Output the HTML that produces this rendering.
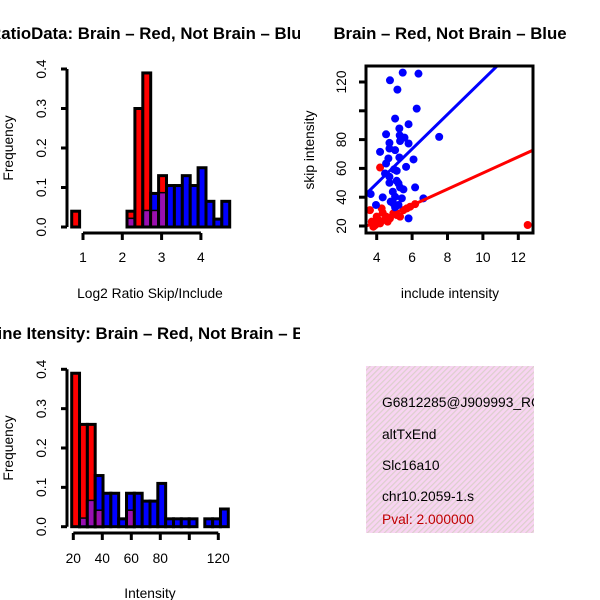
<!DOCTYPE html>
<html><head><meta charset="utf-8"><style>
html,body{margin:0;padding:0;background:#fff}
svg{display:block;font-family:"Liberation Sans",Arial,sans-serif}
</style></head><body>
<svg id="c" width="600" height="600" xmlns="http://www.w3.org/2000/svg">
<defs>
<clipPath id="clipL"><rect x="0" y="0" width="300" height="600"/></clipPath>
<clipPath id="clipS"><rect x="366" y="66" width="167" height="167"/></clipPath>
<clipPath id="clipB"><rect x="366" y="366" width="168" height="167"/></clipPath>
<pattern id="hatch" width="4" height="4" patternUnits="userSpaceOnUse" patternTransform="rotate(45)">
<rect width="4" height="4" fill="#f8d4f2"/><rect width="1.2" height="4" fill="#dccfcc"/></pattern>
</defs>
<g id="p1" clip-path="url(#clipL)"></g>
<g id="p2"></g>
<g id="p3" clip-path="url(#clipL)"></g>
<g id="p4">
<rect x="366" y="366" width="168" height="167" fill="url(#hatch)"/>
<g clip-path="url(#clipB)" font-size="13.8">
<text x="382" y="407">G6812285@J909993_RC</text>
<text x="382" y="439">altTxEnd</text>
<text x="382" y="470">Slc16a10</text>
<text x="382" y="501">chr10.2059-1.s</text>
<text x="382" y="524" fill="#c00000">Pval: 2.000000</text>
</g></g>
</svg>
<script>
// Panel 1 data (bin index -> frequency)
const ratioRed  = [0.04,0,0,0,0,0,0,0.04,0.30,0.39,0.04,0.13,0,0,0,0,0,0,0,0];
const ratioBlue = [0,0,0,0,0,0,0,0.02,0,0.04,0.085,0.085,0.105,0.105,0.13,0.105,0.15,0.065,0.02,0.065];
const ratioXTicks = [1,2,3,4];
const freqTicks = ["0.0","0.1","0.2","0.3","0.4"];
// Panel 3 data
const intRed  = [0.39,0.26,0.26,0.04,0,0,0,0.04,0,0,0,0,0,0,0,0,0,0,0,0];
const intBlue = [0,0.02,0.065,0.13,0.085,0.085,0.02,0.085,0.085,0.065,0.065,0.11,0.02,0.02,0.02,0.02,0,0.02,0.02,0.045];
const intXTicks = [20,40,60,80,100,120];
// Panel 2 data
const blueX = [5.47,6.36,4.75,5.17,6.26,5.04,5.8,5.28,4.53,5.3,5.57,7.53,4.72,5.32,5.8,4.72,5.04,4.19,6.08,4.66,5.28,4.53,4.98,5.66,5.13,4.47,4.72,5.13,5.23,4.72,5.32,6.17,5.51,4.91,6.64,3.66,4.34,5.04,5.42,4.79,3.96,4.94,5.23,5.04,5.8];
const blueY = [126.5,125.8,121.2,114.7,101.5,94.6,90.7,87.7,83.7,83,81.4,81.9,77.7,79,77.3,73.8,72.7,71.5,66.2,66.9,67.6,63.4,59.3,61.1,58.3,56.5,54.2,51.4,49.6,50,46.8,46.8,45.4,43.8,39.2,42.2,39.9,40.3,39.2,36.9,34.6,35.7,34.6,32.9,25.3];
const redX = [4.19,12.53,3.62,4.28,4.0,3.72,3.92,4.19,4.47,4.75,5.13,5.32,5.51,5.89,6.17,4.94,4.53,4.09,3.81,4.62,4.34,5.7];
const redY = [60.6,20.7,31,32.2,26.5,23,20.7,21.8,24.2,25.3,27.6,26.5,31,33.4,35.2,28.8,26.5,24.2,19.5,23,29.2,32.2];
const blueFit = [1.5,12.0];
const redFit = [0.8,5.6];
const scXTicks = [4,6,8,10,12];
const scYTicks = [20,40,60,80,100,120];

const NS="http://www.w3.org/2000/svg";
const FS=13.8, TS=16.8;
function mk(p,tag,a,txt){const e=document.createElementNS(NS,tag);for(const k in a)e.setAttribute(k,a[k]);if(txt!==undefined)e.textContent=txt;p.appendChild(e);return e;}

function hist(g,red,blue,x0,bw,y0,ppu,xt,xs,xlab,title,titleY,axY,labY,xlabY){
  const ys=v=>y0-v/0.1*ppu;
  for(let i=0;i<red.length;i++){
    const x=x0+i*bw,r=red[i],b=blue[i];
    const list=[[r,'#ff0000','red'],[b,'#0000ff','blue']].filter(d=>d[0]>0).sort((a,c)=>c[0]-a[0]);
    list.forEach(d=>{const e=mk(g,'rect',{x:x,y:ys(d[0]),width:bw,height:y0-ys(d[0]),fill:d[1],stroke:'#000','stroke-width':3});
      
      });
    const m=Math.min(r,b);
    if(m>0){const e=mk(g,'rect',{x:x+1.5,y:ys(m),width:bw-3,height:y0-ys(m)-1.5,fill:'#9a10b0'});
      
      }
  }
  mk(g,'line',{x1:67,x2:67,y1:ys(0),y2:ys(0.4),stroke:'#000','stroke-width':3});
  freqTicks.forEach((t,i)=>{const y=ys(i*0.1);mk(g,'line',{x1:61,x2:67,y1:y,y2:y,stroke:'#000','stroke-width':3});
    const e=mk(g,'text',{x:46,y:y,'font-size':FS,'text-anchor':'middle',transform:`rotate(-90 46 ${y})`},t);
    
    });
  mk(g,'line',{x1:xs(xt[0]),x2:xs(xt[xt.length-1]),y1:axY,y2:axY,stroke:'#000','stroke-width':3});
  xt.forEach(t=>{const x=xs(t);mk(g,'line',{x1:x,x2:x,y1:axY,y2:axY+7,stroke:'#000','stroke-width':3});
    if(t!==100){const e=mk(g,'text',{x:x,y:labY,'font-size':FS,'text-anchor':'middle'},t);
    
    }});
  let e=mk(g,'text',{x:150,y:xlabY,'font-size':FS,'text-anchor':'middle'},xlab);
  
  
  const cy=(ys(0)+ys(0.4))/2;
  e=mk(g,'text',{x:13,y:cy,'font-size':FS,'text-anchor':'middle',transform:`rotate(-90 13 ${cy})`},'Frequency');
  
  
  e=mk(g,'text',{x:150,y:titleY,'font-size':TS,'font-weight':'bold','text-anchor':'middle'},title);
  
  
}
hist(document.getElementById('p1'),ratioRed,ratioBlue,71.7,7.9,227,39.5,ratioXTicks,v=>83+(v-1)*39.3,'Log2 Ratio Skip/Include','RatioData: Brain \u2013 Red, Not Brain \u2013 Blue',39,233,262,298);
hist(document.getElementById('p3'),intRed,intBlue,71.7,7.83,526.7,39.35,intXTicks,v=>73.3+(v-20)*1.45,'Intensity','Spline Itensity: Brain \u2013 Red, Not Brain \u2013 Blue',339,533,563,598);

const g2=document.getElementById('p2');
const sx=v=>376.7+(v-4)*17.7, sy=v=>226-(v-20)*1.44;
const pts=mk(g2,'g',{'clip-path':'url(#clipS)'});
redX.forEach((x,i)=>{const e=mk(pts,'circle',{cx:sx(x),cy:sy(redY[i]),r:4,fill:'#ff0000'});
  
  });
blueX.forEach((x,i)=>{const e=mk(pts,'circle',{cx:sx(x),cy:sy(blueY[i]),r:4,fill:'#0000ff'});
  
  });
[[blueFit,'#0000ff','fit-line-blue'],[redFit,'#ff0000','fit-line-red']].forEach(d=>{
  const a=d[0][0],b=d[0][1];const e=mk(pts,'line',{x1:sx(3),y1:sy(a+b*3),x2:sx(14),y2:sy(a+b*14),stroke:d[1],'stroke-width':3});
  
  });
mk(g2,'rect',{x:366,y:66,width:167,height:167,fill:'none',stroke:'#000','stroke-width':3});
scXTicks.forEach(t=>{const x=sx(t);mk(g2,'line',{x1:x,x2:x,y1:233,y2:240,stroke:'#000','stroke-width':3});
  const e=mk(g2,'text',{x:x,y:262,'font-size':FS,'text-anchor':'middle'},t);
  
  });
scYTicks.forEach(t=>{const y=sy(t);mk(g2,'line',{x1:359,x2:366,y1:y,y2:y,stroke:'#000','stroke-width':3});
  if(t!==100){const e=mk(g2,'text',{x:346,y:y,'font-size':FS,'text-anchor':'middle',transform:`rotate(-90 346 ${y})`},t);
  
  }});
let t=mk(g2,'text',{x:450,y:298,'font-size':FS,'text-anchor':'middle'},'include intensity');


t=mk(g2,'text',{x:314,y:150,'font-size':FS,'text-anchor':'middle',transform:'rotate(-90 314 150)'},'skip intensity');


t=mk(g2,'text',{x:450,y:39,'font-size':TS,'font-weight':'bold','text-anchor':'middle'},'Brain \u2013 Red, Not Brain \u2013 Blue');


</script>
</body></html>
